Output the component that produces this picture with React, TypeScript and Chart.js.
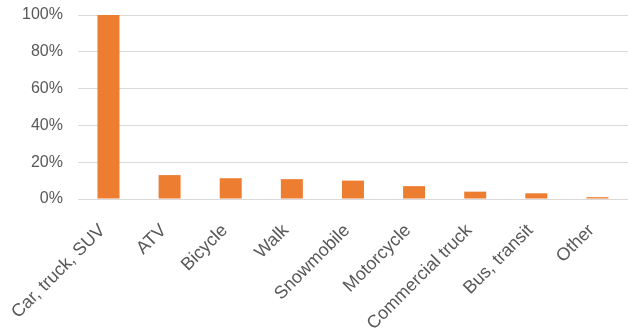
import React, { useEffect, useRef } from "react";
import { Chart, registerables } from "chart.js";

Chart.register(...registerables);

const categories = [
  "Car, truck, SUV",
  "ATV",
  "Bicycle",
  "Walk",
  "Snowmobile",
  "Motorcycle",
  "Commercial truck",
  "Bus, transit",
  "Other",
];
const values = [100, 13, 11.3, 10.8, 10, 7, 4, 3.1, 1];
const yTicks = [0, 20, 40, 60, 80, 100];

export default function App() {
  const ref = useRef<HTMLCanvasElement | null>(null);
  useEffect(() => {
    if (!ref.current) return;
    const chart = new Chart(ref.current, {
      type: "bar",
      data: {
        labels: categories,
        datasets: [
          {
            data: values,
            backgroundColor: "#ED7D31",
            barPercentage: 0.36,
            categoryPercentage: 1,
          },
        ],
      },
      options: {
        responsive: false,
        animation: false,
        layout: { padding: { top: 0, right: 1, bottom: 0, left: 7 } },
        plugins: { legend: { display: false }, tooltip: { enabled: false } },
        scales: {
          x: {
            grid: { display: false },
            border: { display: false },
            afterFit: (axis: any) => {
              axis.height = 136;
            },
            ticks: {
              color: "#595959",
              font: { family: "Liberation Sans", size: 18 },
              minRotation: 45,
              maxRotation: 45,
              autoSkip: false,
              padding: 13,
              labelOffset: -6,
            },
          },
          y: {
            min: 0,
            max: 100,
            afterBuildTicks: (axis: any) => {
              axis.ticks = yTicks.map((v) => ({ value: v }));
            },
            grid: { color: "#D9D9D9", lineWidth: 1, drawTicks: false },
            border: { display: false },
            ticks: {
              color: "#595959",
              font: { family: "Liberation Sans", size: 16, lineHeight: 0.01 },
              padding: 15,
              callback: (v: any) => v + "%",
            },
          },
        },
      },
    });
    return () => chart.destroy();
  }, []);
  return (
    <div style={{ position: "fixed", left: 0, top: 0, width: 629, height: 335 }}>
      <canvas ref={ref} width={629} height={335} />
    </div>
  );
}
